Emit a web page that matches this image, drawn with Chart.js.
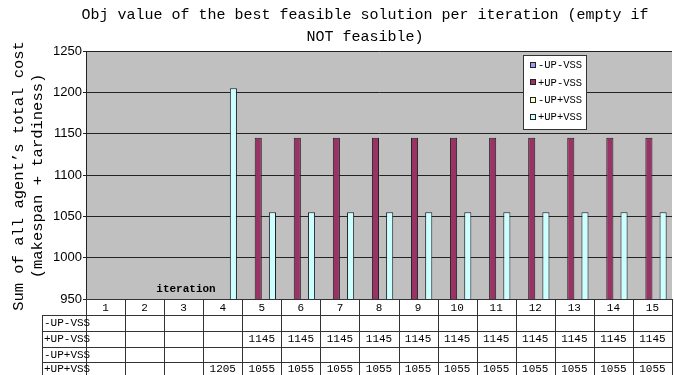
<!DOCTYPE html>
<html>
<head>
<meta charset="utf-8">
<script src="https://cdn.jsdelivr.net/npm/chart.js@4/dist/chart.umd.min.js"></script>
<style>
  html, body { margin: 0; padding: 0; background: #fff; }
  #wrap { width: 674px; height: 375px; }
</style>
</head>
<body>
<div id="wrap"><canvas id="c" width="674" height="375"></canvas></div>
<script>
// Iterations on the category axis
const iterations = ['1','2','3','4','5','6','7','8','9','10','11','12','13','14','15'];

// Objective value per iteration for each configuration (null = not feasible)
const minusUpMinusVss = [null,null,null,null,null,null,null,null,null,null,null,null,null,null,null];
const plusUpMinusVss  = [null,null,null,null,1145,1145,1145,1145,1145,1145,1145,1145,1145,1145,1145];
const minusUpPlusVss  = [null,null,null,null,null,null,null,null,null,null,null,null,null,null,null];
const plusUpPlusVss   = [null,null,null,1205,1055,1055,1055,1055,1055,1055,1055,1055,1055,1055,1055];

const seriesNames = ['-UP-VSS', '+UP-VSS', '-UP+VSS', '+UP+VSS'];
const seriesColors = ['#9999FF', '#993366', '#FFFFCC', '#CCFFFF'];

// Value axis range
const yMin = 950, yMax = 1250, yStep = 50;

const titleLines = ['Obj value of the best feasible solution per iteration (empty if', 'NOT feasible)'];
const yTitleLines = ['Sum of all agent\u2019s total cost', '(makespan + tardiness)'];
const xTitle = 'iteration';

const MONO = '"Liberation Mono", "DejaVu Sans Mono", monospace';
const LINE = '#333';

const seriesData = [minusUpMinusVss, plusUpMinusVss, minusUpPlusVss, plusUpPlusVss];

const decorations = {
  id: 'decorations',
  beforeDraw(chart) {
    const { ctx, chartArea: a } = chart;
    ctx.save();
    ctx.fillStyle = '#fff';
    ctx.fillRect(0, 0, chart.width, chart.height);
    ctx.fillStyle = '#C0C0C0';
    ctx.fillRect(a.left, a.top, a.right - a.left, a.bottom - a.top);
    ctx.restore();
  },
  afterDraw(chart) {
    const { ctx, chartArea: a } = chart;
    const xs = chart.scales.x;
    ctx.save();

    // Chart title
    ctx.fillStyle = '#000';
    ctx.font = '15px ' + MONO;
    ctx.textAlign = 'center';
    ctx.textBaseline = 'middle';
    ctx.fillText(titleLines[0], 365, 15);
    ctx.fillText(titleLines[1], 365, 37);

    // Value axis title (rotated)
    ctx.save();
    ctx.font = '15.5px ' + MONO;
    ctx.translate(18.5, 176);
    ctx.rotate(-Math.PI / 2);
    ctx.fillText(yTitleLines[0], 0, 0);
    ctx.fillText(yTitleLines[1], 0, 19.5);
    ctx.restore();

    // Category axis title
    ctx.font = 'bold 11px ' + MONO;
    ctx.fillText(xTitle, 186, 289);

    // Data table
    const rowTops = [a.bottom, a.bottom + 16, a.bottom + 32, a.bottom + 48, a.bottom + 63];
    const rowH = 16;
    const labelLeft = 42;
    const n = iterations.length;
    const colW = (a.right - a.left) / n;
    const edge = i => a.left + colW * i;

    ctx.strokeStyle = LINE;
    ctx.lineWidth = 1;
    ctx.beginPath();
    // horizontal lines
    ctx.moveTo(a.left, Math.round(rowTops[0]) + 0.5);
    ctx.lineTo(a.right, Math.round(rowTops[0]) + 0.5);
    for (let r = 1; r < rowTops.length; r++) {
      const y = Math.round(rowTops[r]) + 0.5;
      ctx.moveTo(labelLeft, y);
      ctx.lineTo(a.right, y);
    }
    // vertical lines
    ctx.moveTo(labelLeft + 0.5, rowTops[1]);
    ctx.lineTo(labelLeft + 0.5, chart.height);
    for (let i = 0; i <= n; i++) {
      const x = Math.round(edge(i)) + 0.5;
      ctx.moveTo(x, rowTops[0]);
      ctx.lineTo(x, chart.height);
    }
    ctx.stroke();

    ctx.fillStyle = '#000';
    ctx.font = '11px ' + MONO;
    ctx.textBaseline = 'middle';
    // header row with iteration numbers
    ctx.textAlign = 'center';
    iterations.forEach((lab, i) => {
      ctx.fillText(lab, xs.getPixelForValue(i), rowTops[0] + rowH / 2 + 1);
    });
    // value rows
    seriesNames.forEach((name, s) => {
      const cy = rowTops[s + 1] + rowH / 2 + (s === 3 ? -1 : 0.5);
      ctx.textAlign = 'left';
      ctx.fillText(name, labelLeft + 2, cy);
      ctx.textAlign = 'center';
      seriesData[s].forEach((v, i) => {
        if (v !== null) ctx.fillText(String(v), xs.getPixelForValue(i), cy);
      });
    });

    // Legend box
    const lx = 523, ly = 55, lw = 63, lh = 74;
    ctx.fillStyle = '#fff';
    ctx.fillRect(lx, ly, lw, lh);
    ctx.strokeStyle = '#333';
    ctx.strokeRect(lx + 0.5, ly + 0.5, lw, lh);
    ctx.font = '10.5px ' + MONO;
    ctx.textAlign = 'left';
    seriesNames.forEach((name, s) => {
      const cy = 65 + s * 17.3;
      ctx.fillStyle = seriesColors[s];
      ctx.fillRect(530, Math.round(cy) - 3, 6, 6);
      ctx.strokeStyle = '#222';
      ctx.strokeRect(530.5, Math.round(cy) - 2.5, 5, 5);
      ctx.fillStyle = '#000';
      ctx.fillText(name, 538, cy + 0.5);
    });

    ctx.restore();
  }
};

new Chart(document.getElementById('c'), {
  type: 'bar',
  data: {
    labels: iterations,
    datasets: seriesNames.map((name, s) => ({
      label: name,
      data: seriesData[s],
      backgroundColor: seriesColors[s],
      borderColor: '#222',
      borderWidth: 1,
      categoryPercentage: 0.727,
      barPercentage: 1.0
    }))
  },
  options: {
    responsive: false,
    animation: false,
    devicePixelRatio: 1,
    layout: { padding: { top: 51, right: 2, left: 0, bottom: 0 } },
    plugins: { legend: { display: false }, title: { display: false }, tooltip: { enabled: false } },
    scales: {
      x: {
        grid: { display: false },
        border: { display: false },
        ticks: { display: false },
        afterFit(scale) { scale.height = 76; }
      },
      y: {
        min: yMin,
        max: yMax,
        ticks: {
          stepSize: yStep,
          color: '#000',
          padding: 1,
          font: { family: '"Liberation Sans", Arial, sans-serif', size: 13 },
          callback: v => String(v)
        },
        grid: { color: '#222', lineWidth: 1, tickLength: 3 },
        border: { display: true, color: '#222' },
        afterFit(scale) { scale.width = 86; }
      }
    }
  },
  plugins: [decorations]
});
</script>
</body>
</html>
